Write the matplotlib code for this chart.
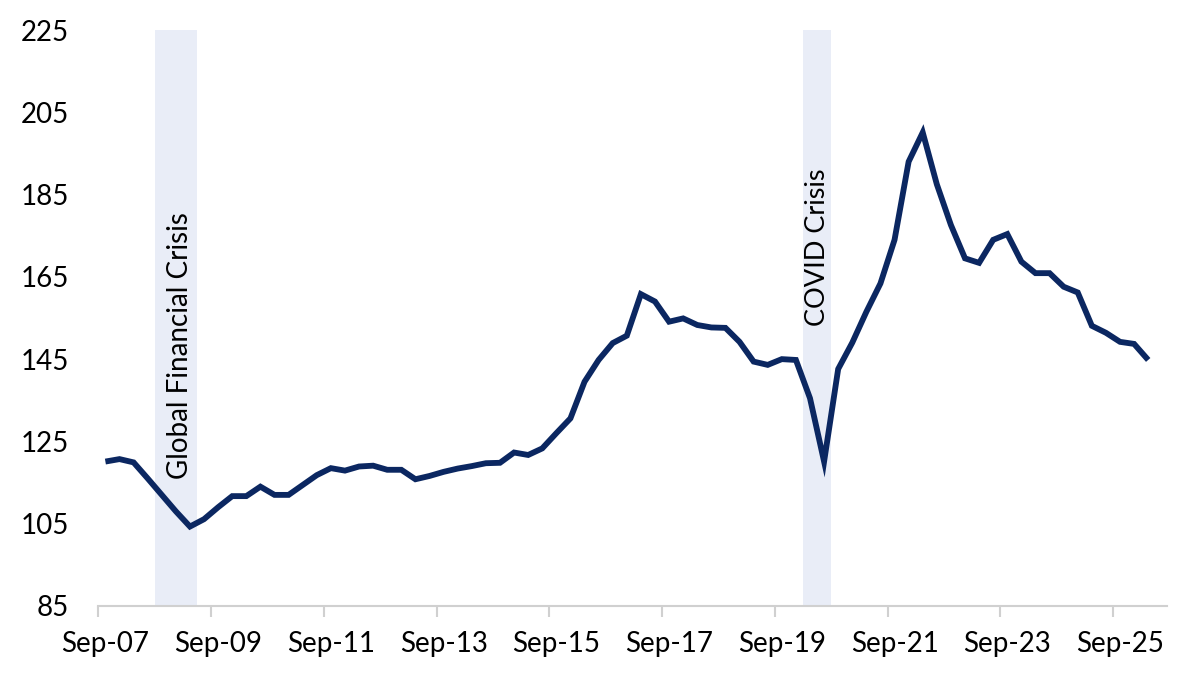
import matplotlib
matplotlib.use("Agg")
import matplotlib.pyplot as plt
import numpy as np

# Quarterly series, Sep-07 .. Mar-26
values = [120.1, 120.7, 119.9, 116.0, 112.0, 108.0, 104.3, 106.1, 109.0, 111.7,
          111.7, 114.0, 112.0, 112.0, 114.4, 116.8, 118.5, 117.9, 118.9, 119.1,
          118.1, 118.1, 115.8, 116.6, 117.6, 118.4, 119.0, 119.7, 119.8, 122.3,
          121.7, 123.3, 127.0, 130.6, 139.5, 144.8, 148.9, 150.7, 160.8, 159.0,
          154.1, 154.9, 153.3, 152.7, 152.6, 149.2, 144.4, 143.6, 145.0, 144.8,
          135.5, 120.1, 142.6, 149.0, 156.5, 163.4, 174.0, 193.0, 200.1, 187.5,
          177.6, 169.5, 168.4, 174.0, 175.4, 168.7, 165.9, 165.9, 162.6, 161.2,
          153.1, 151.4, 149.2, 148.7, 144.8]
tick_labels = ["Sep-07", "Sep-09", "Sep-11", "Sep-13", "Sep-15",
               "Sep-17", "Sep-19", "Sep-21", "Sep-23", "Sep-25"]
y_ticks = [85, 105, 125, 145, 165, 185, 205, 225]
gfc_quarters = [4, 6]      # first/last quarter index shaded (Sep-08 .. Mar-09)
covid_quarters = [50, 51]  # Mar-20 .. Jun-20
annotations = ["Global Financial Crisis", "COVID Crisis"]

plt.rcParams['font.family'] = ['Lato', 'DejaVu Sans']

fig = plt.figure(figsize=(11.85, 6.76), dpi=100)
ax = fig.add_axes([0.083, 0.1036, 0.902, 0.852])

x = np.arange(len(values))
band_color = "#E9EDF7"
ax.axvspan(gfc_quarters[0] - 0.5, gfc_quarters[1] + 0.5, color=band_color, lw=0, zorder=0)
ax.axvspan(covid_quarters[0] - 0.5, covid_quarters[1] + 0.5, color=band_color, lw=0, zorder=0)

ax.plot(x, values, color="#0B2761", lw=4.2, solid_joinstyle="miter", solid_capstyle="butt", zorder=3)

ax.text(5.3, 148.4, annotations[0], rotation=90, ha="center", va="center", fontsize=20, color="black", zorder=4)
ax.text(50.55, 172.3, annotations[1], rotation=90, ha="center", va="center", fontsize=19.5, color="black", zorder=4)

ax.set_ylim(85, 225)
ax.set_xlim(-0.5, 75.35)
ax.set_yticks(y_ticks)
ax.set_yticklabels([str(v) for v in y_ticks], fontsize=20)
ax.tick_params(axis="y", length=0, pad=21)

major = [-0.5 + 8 * k for k in range(len(tick_labels))]
minor = [8 * k for k in range(len(tick_labels))]
ax.set_xticks(major)
ax.set_xticklabels([])
ax.set_xticks(minor, minor=True)
ax.set_xticklabels(tick_labels, minor=True, fontsize=20)
ax.tick_params(axis="x", which="major", length=8, width=1.5, color="#D0D0D0", direction="out")
ax.tick_params(axis="x", which="minor", length=0, pad=18)

for s in ["top", "right", "left"]:
    ax.spines[s].set_visible(False)
ax.spines["bottom"].set_color("#D0D0D0")
ax.spines["bottom"].set_linewidth(1.5)

fig.savefig("out.png", dpi=100)
